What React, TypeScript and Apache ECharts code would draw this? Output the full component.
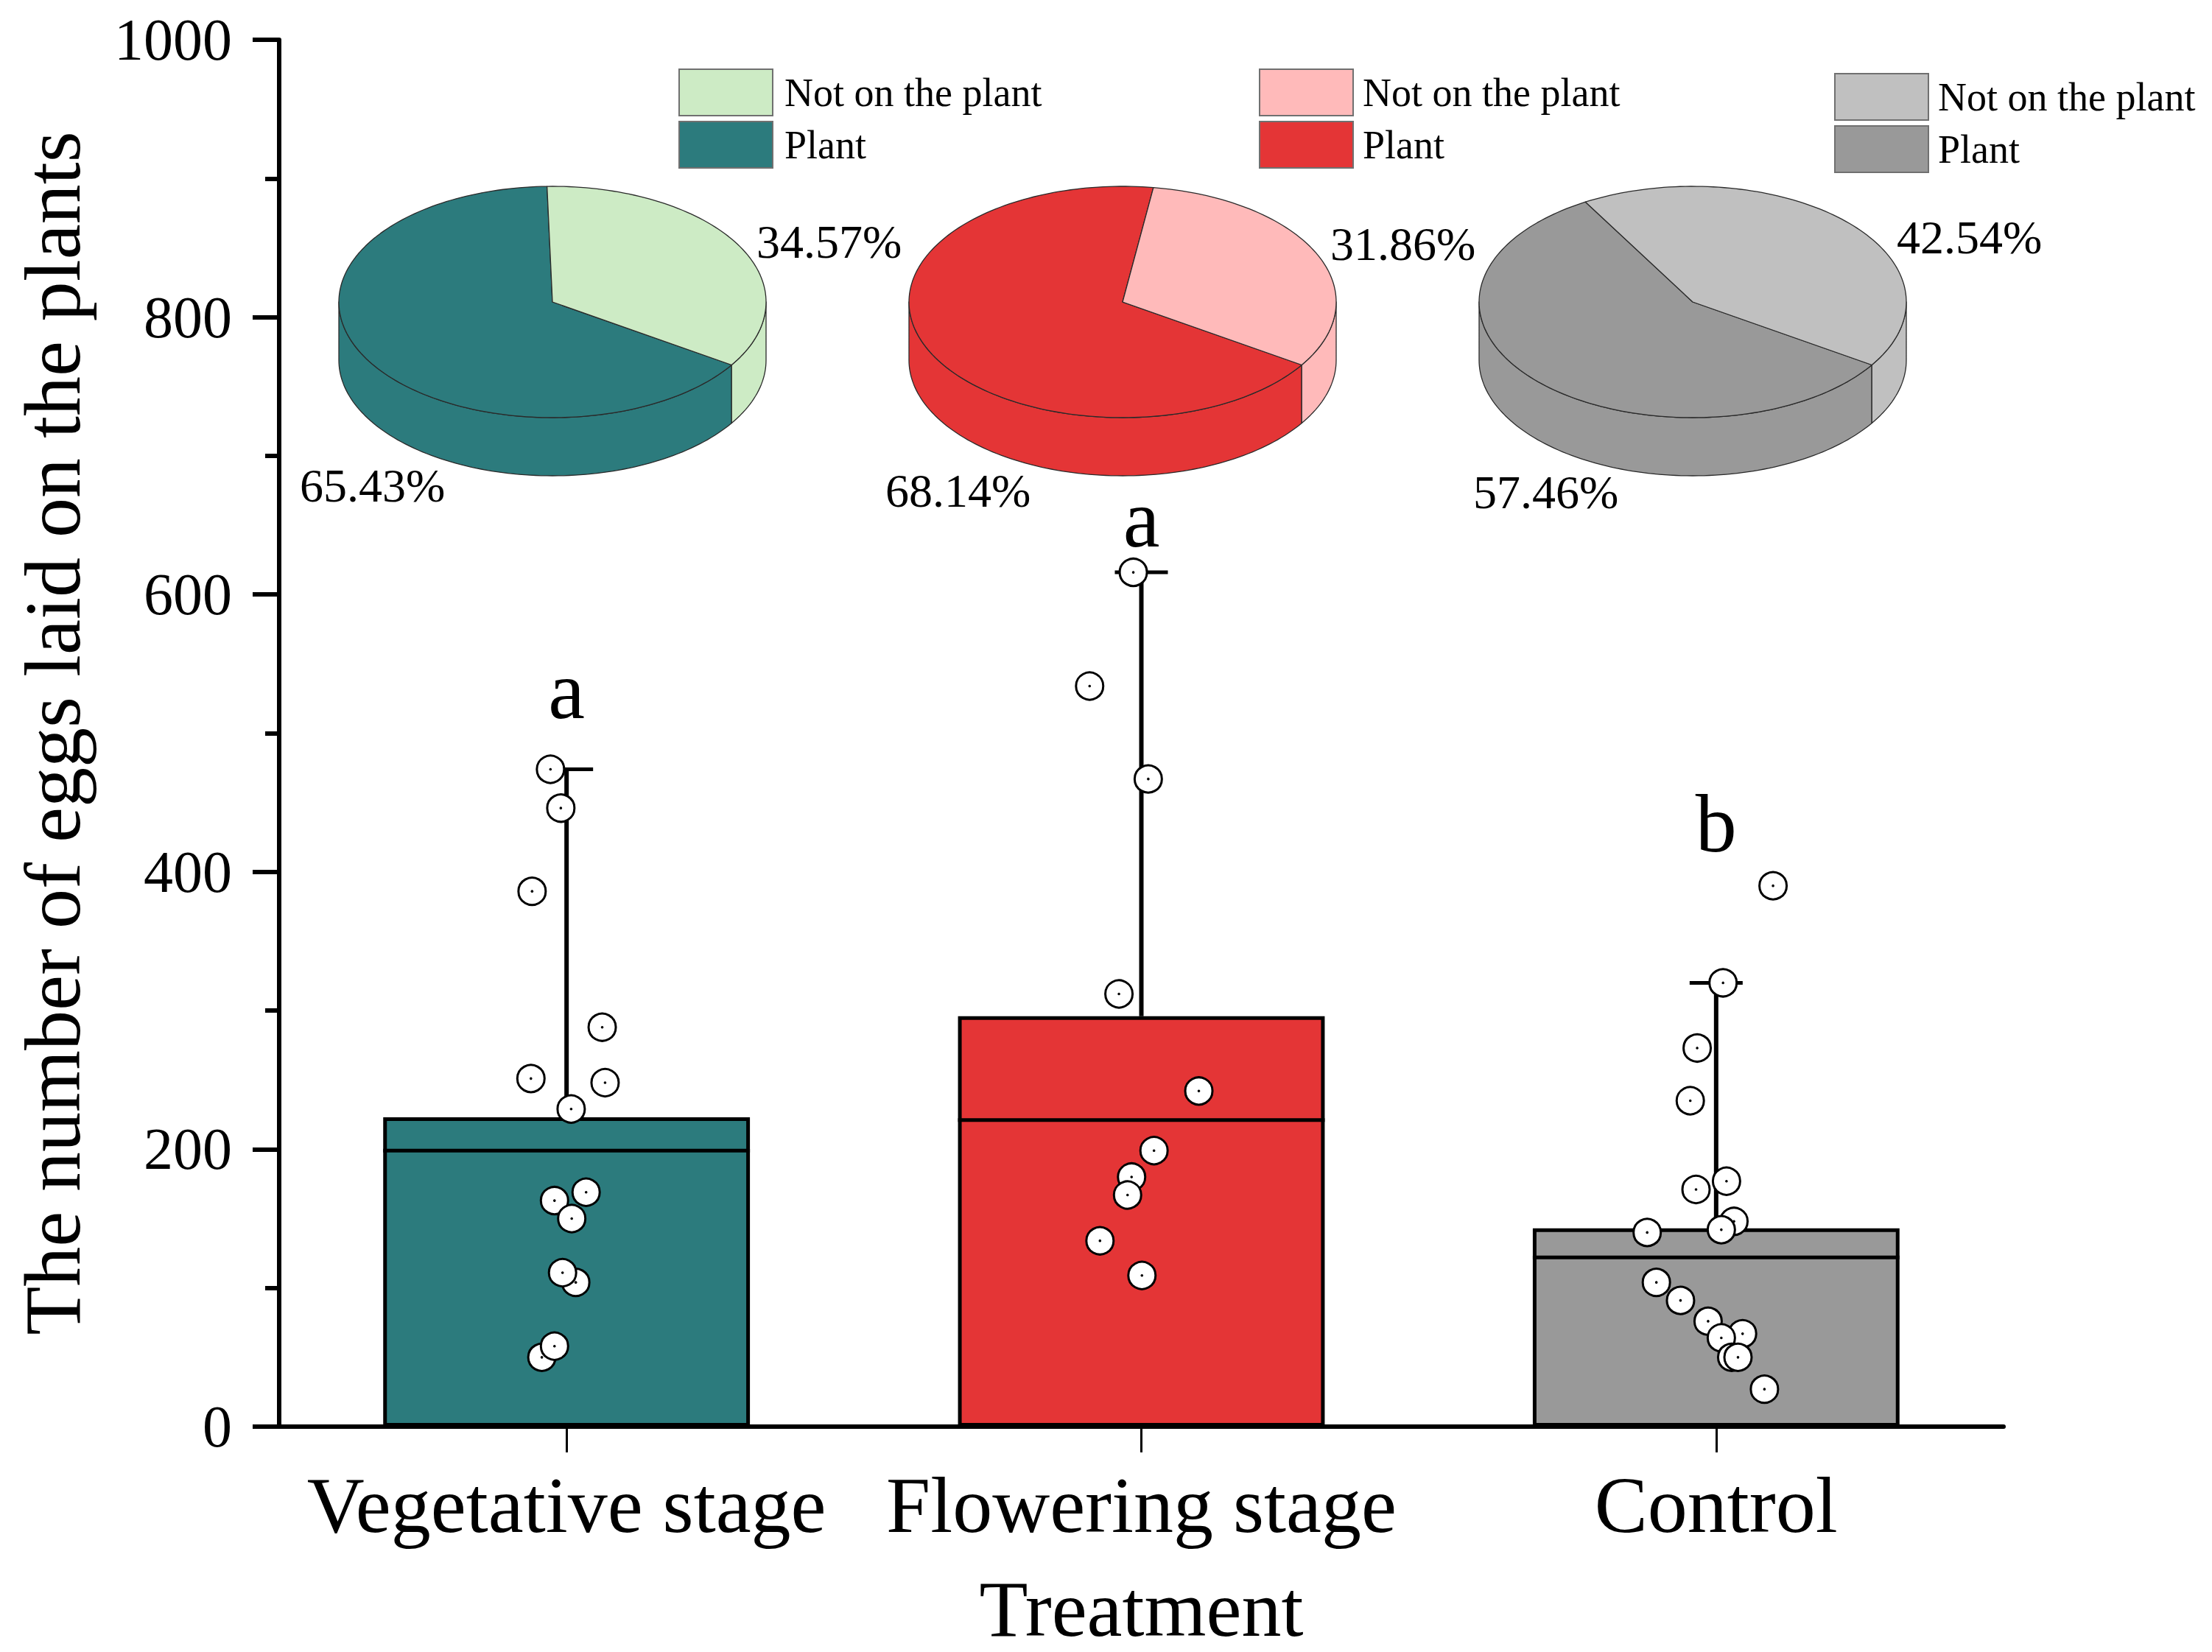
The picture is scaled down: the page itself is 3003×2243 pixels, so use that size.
import React, { useEffect, useRef } from 'react';
import * as echarts from 'echarts';

// ---------------- data ----------------
const categories = ['Vegetative stage', 'Flowering stage', 'Control'];
const barMeans = [223, 296, 143];
const medians = [199, 221, 122];
const whiskerTops = [474, 616, 320];
const groupLetters = ['a', 'a', 'b'];
const letterValues = [531, 655, 435];

const vegValues = [474, 446, 386, 288, 251, 248, 229, 169, 163, 150, 104, 111, 50, 58];
const vegJitter = [-0.028, -0.01, -0.06, 0.062, -0.062, 0.067, 0.008, 0.034, -0.021, 0.009, 0.016, -0.007, -0.043, -0.021];

const floValues = [616, 534, 467, 312, 242, 199, 180, 167, 134, 109];
const floJitter = [-0.014, -0.09, 0.012, -0.039, 0.1, 0.022, -0.017, -0.024, -0.072, 0.001];

const conValues = [390, 320, 273, 235, 177, 171, 148, 142, 140, 104, 91, 76, 67, 64, 50, 50, 27];
const conJitter = [0.099, 0.012, -0.033, -0.045, 0.018, -0.035, 0.031, 0.009, -0.12, -0.104, -0.062, -0.014, 0.046, 0.009, 0.027, 0.038, 0.084];

const pieLegendNames = ['Not on the plant', 'Plant'];
const notOnPlantPct = [34.57, 31.86, 42.54];
const plantPct = [65.43, 68.14, 57.46];

const yMin = 0;
const yMax = 1000;
const yInterval = 200;

// ---------------- style / layout ----------------
const FONT = "'Liberation Serif', 'Times New Roman', serif";
const barColors = ['#2C7B7D', '#E43536', '#999999'];
const lightColors = ['#CDEBC5', '#FFBABA', '#C0C0C0'];

const PIE_CX = [750, 1524, 2298];
const PIE_CY = 410;
const RX = 290;
const RY = 157;
const DEPTH = 79;
const PIE_START = 123; // degrees clockwise from 12 o'clock where "Plant" begins
const NOT_LABEL_OFF = [[277, -82], [282, -79], [277, -88]];
const PLANT_LABEL_OFF = [[-343, 249], [-322, 256], [-298, 258]];

const LEGENDS = [
  { x: 922, y: 94, tx: 1065 },
  { x: 1710, y: 94, tx: 1850 },
  { x: 2491, y: 100, tx: 2631 },
];

function ellPt(cx: number, cy: number, th: number) {
  const r = (th * Math.PI) / 180;
  return [cx + RX * Math.sin(r), cy - RY * Math.cos(r)];
}
function arcPts(cx: number, cy: number, a: number, b: number) {
  const n = Math.max(2, Math.ceil(Math.abs(b - a) / 1.5));
  const pts: number[][] = [];
  for (let k = 0; k <= n; k++) pts.push(ellPt(cx, cy, a + ((b - a) * k) / n));
  return pts;
}

function buildOption() {
  const pointData: number[][] = [];
  const groups = [
    [vegValues, vegJitter],
    [floValues, floJitter],
    [conValues, conJitter],
  ];
  groups.forEach(([vals, jit], gi) => {
    vals.forEach((v, k) => pointData.push([gi + 0.5 + jit[k], v]));
  });

  const legendGraphics: any[] = [];
  LEGENDS.forEach((lg, i) => {
    const colors = [lightColors[i], barColors[i]];
    pieLegendNames.forEach((name, k) => {
      const y = lg.y + k * 71;
      legendGraphics.push({
        type: 'rect',
        shape: { x: lg.x, y, width: 127, height: 63 },
        style: { fill: colors[k], stroke: '#707070', lineWidth: 2 },
      });
      legendGraphics.push({
        type: 'text',
        x: lg.tx,
        y: y + 32,
        style: { text: name, fontFamily: FONT, fontSize: 54, fill: '#000', textVerticalAlign: 'middle', verticalAlign: 'middle' },
      });
    });
  });

  return {
    animation: false,
    backgroundColor: '#ffffff',
    grid: { left: 379, top: 54, width: 2341, height: 1886, containLabel: false },
    xAxis: [
      {
        type: 'category',
        data: categories,
        boundaryGap: true,
        axisLine: { show: true, lineStyle: { color: '#000', width: 6 } },
        axisTick: { show: true, alignWithLabel: true, length: 35, lineStyle: { color: '#000', width: 3 } },
        axisLabel: { fontFamily: FONT, fontSize: 108, color: '#000', margin: 52, interval: 0, hideOverlap: false },
        splitLine: { show: false },
        name: 'Treatment',
        nameLocation: 'middle',
        nameGap: 193,
        nameTextStyle: { fontFamily: FONT, fontSize: 108, color: '#000' },
      },
      { type: 'value', min: 0, max: 3, show: false },
    ],
    yAxis: {
      type: 'value',
      min: yMin,
      max: yMax,
      interval: yInterval,
      axisLine: { show: true, lineStyle: { color: '#000', width: 6 } },
      axisTick: { show: true, length: 36, lineStyle: { color: '#000', width: 6 } },
      minorTick: { show: true, splitNumber: 2, length: 19, lineStyle: { color: '#000', width: 6 } },
      splitLine: { show: false },
      minorSplitLine: { show: false },
      axisLabel: { fontFamily: FONT, fontSize: 80, color: '#000', margin: 64, formatter: (v: number) => String(v) },
      name: 'The number of eggs laid on the plants',
      nameLocation: 'middle',
      nameGap: 254,
      nameTextStyle: { fontFamily: FONT, fontSize: 108, color: '#000' },
    },
    graphic: legendGraphics,
    series: [
      {
        type: 'bar',
        xAxisIndex: 0,
        barWidth: '63.8%',
        data: barMeans.map((v, i) => ({ value: v, itemStyle: { color: barColors[i] } })),
        itemStyle: { borderColor: '#000', borderWidth: 5 },
        z: 2,
      },
      {
        type: 'custom',
        xAxisIndex: 0,
        z: 3,
        data: medians.map((m, i) => [i, m]),
        renderItem: (params: any, api: any) => {
          const c = api.coord([api.value(0), api.value(1)]);
          const w = api.size([1, 0])[0] * 0.638;
          return {
            type: 'line',
            shape: { x1: c[0] - w / 2, y1: c[1], x2: c[0] + w / 2, y2: c[1] },
            style: { stroke: '#000', lineWidth: 5 },
          };
        },
      },
      {
        type: 'custom',
        xAxisIndex: 0,
        z: 3,
        data: barMeans.map((m, i) => [i, m, whiskerTops[i]]),
        renderItem: (params: any, api: any) => {
          const b = api.coord([api.value(0), api.value(1)]);
          const t = api.coord([api.value(0), api.value(2)]);
          return {
            type: 'group',
            children: [
              { type: 'line', shape: { x1: b[0], y1: b[1], x2: t[0], y2: t[1] }, style: { stroke: '#000', lineWidth: 6 } },
              { type: 'line', shape: { x1: t[0] - 36, y1: t[1], x2: t[0] + 36, y2: t[1] }, style: { stroke: '#000', lineWidth: 5 } },
            ],
          };
        },
      },
      {
        type: 'custom',
        xAxisIndex: 0,
        z: 5,
        data: letterValues.map((v, i) => [i, v]),
        renderItem: (params: any, api: any) => {
          const c = api.coord([api.value(0), api.value(1)]);
          return {
            type: 'text',
            x: c[0],
            y: c[1],
            style: {
              text: groupLetters[params.dataIndex],
              fontFamily: FONT,
              fontSize: 112,
              fill: '#000',
              align: 'center',
              textAlign: 'center',
              verticalAlign: 'middle',
              textVerticalAlign: 'middle',
            },
          };
        },
      },
      {
        type: 'custom',
        xAxisIndex: 1,
        z: 6,
        data: pointData,
        renderItem: (params: any, api: any) => {
          const c = api.coord([api.value(0), api.value(1)]);
          return {
            type: 'group',
            children: [
              { type: 'circle', shape: { cx: c[0], cy: c[1], r: 18.5 }, style: { fill: '#fff', stroke: '#000', lineWidth: 3 } },
              { type: 'circle', shape: { cx: c[0], cy: c[1], r: 1.8 }, style: { fill: '#000' } },
            ],
          };
        },
      },
      {
        type: 'custom',
        coordinateSystem: 'none',
        z: 10,
        data: plantPct.map((p, i) => [i, p, notOnPlantPct[i]]),
        renderItem: (params: any, api: any) => {
          const i = params.dataIndex;
          const cx = PIE_CX[i];
          const cy = PIE_CY;
          const plantSpan = (plantPct[i] / 100) * 360;
          const slices = [
            { a: PIE_START, b: PIE_START + plantSpan, color: barColors[i] },
            { a: PIE_START + plantSpan, b: PIE_START + 360, color: lightColors[i] },
          ];
          const children: any[] = [];
          slices.forEach((s) => {
            [[90, 270], [450, 630]].forEach(([lo, hi]) => {
              const a = Math.max(s.a, lo);
              const b = Math.min(s.b, hi);
              if (b > a) {
                children.push({
                  type: 'polygon',
                  shape: { points: [...arcPts(cx, cy, a, b), ...arcPts(cx, cy + DEPTH, b, a)] },
                  style: { fill: s.color, stroke: '#2a2a2a', lineWidth: 1.3, lineJoin: 'round' },
                });
              }
            });
          });
          slices.forEach((s) => {
            children.push({
              type: 'polygon',
              shape: { points: [[cx, cy], ...arcPts(cx, cy, s.a, s.b)] },
              style: { fill: s.color, stroke: '#2a2a2a', lineWidth: 1.3, lineJoin: 'round' },
            });
          });
          children.push({
            type: 'text',
            x: cx + NOT_LABEL_OFF[i][0],
            y: cy + NOT_LABEL_OFF[i][1],
            style: {
              text: notOnPlantPct[i].toFixed(2) + '%',
              fontFamily: FONT,
              fontSize: 64,
              fill: '#000',
              verticalAlign: 'middle',
              textVerticalAlign: 'middle',
            },
          });
          children.push({
            type: 'text',
            x: cx + PLANT_LABEL_OFF[i][0],
            y: cy + PLANT_LABEL_OFF[i][1],
            style: {
              text: plantPct[i].toFixed(2) + '%',
              fontFamily: FONT,
              fontSize: 64,
              fill: '#000',
              verticalAlign: 'middle',
              textVerticalAlign: 'middle',
            },
          });
          return { type: 'group', children };
        },
      },
    ],
  };
}

export default function App() {
  const ref = useRef<HTMLDivElement>(null);
  useEffect(() => {
    document.body.style.margin = '0';
    const chart = echarts.init(ref.current as HTMLDivElement, null, { renderer: 'svg' });
    chart.setOption(buildOption() as any);
    return () => chart.dispose();
  }, []);
  return <div ref={ref} style={{ width: 3003, height: 2243, background: '#fff' }} />;
}
